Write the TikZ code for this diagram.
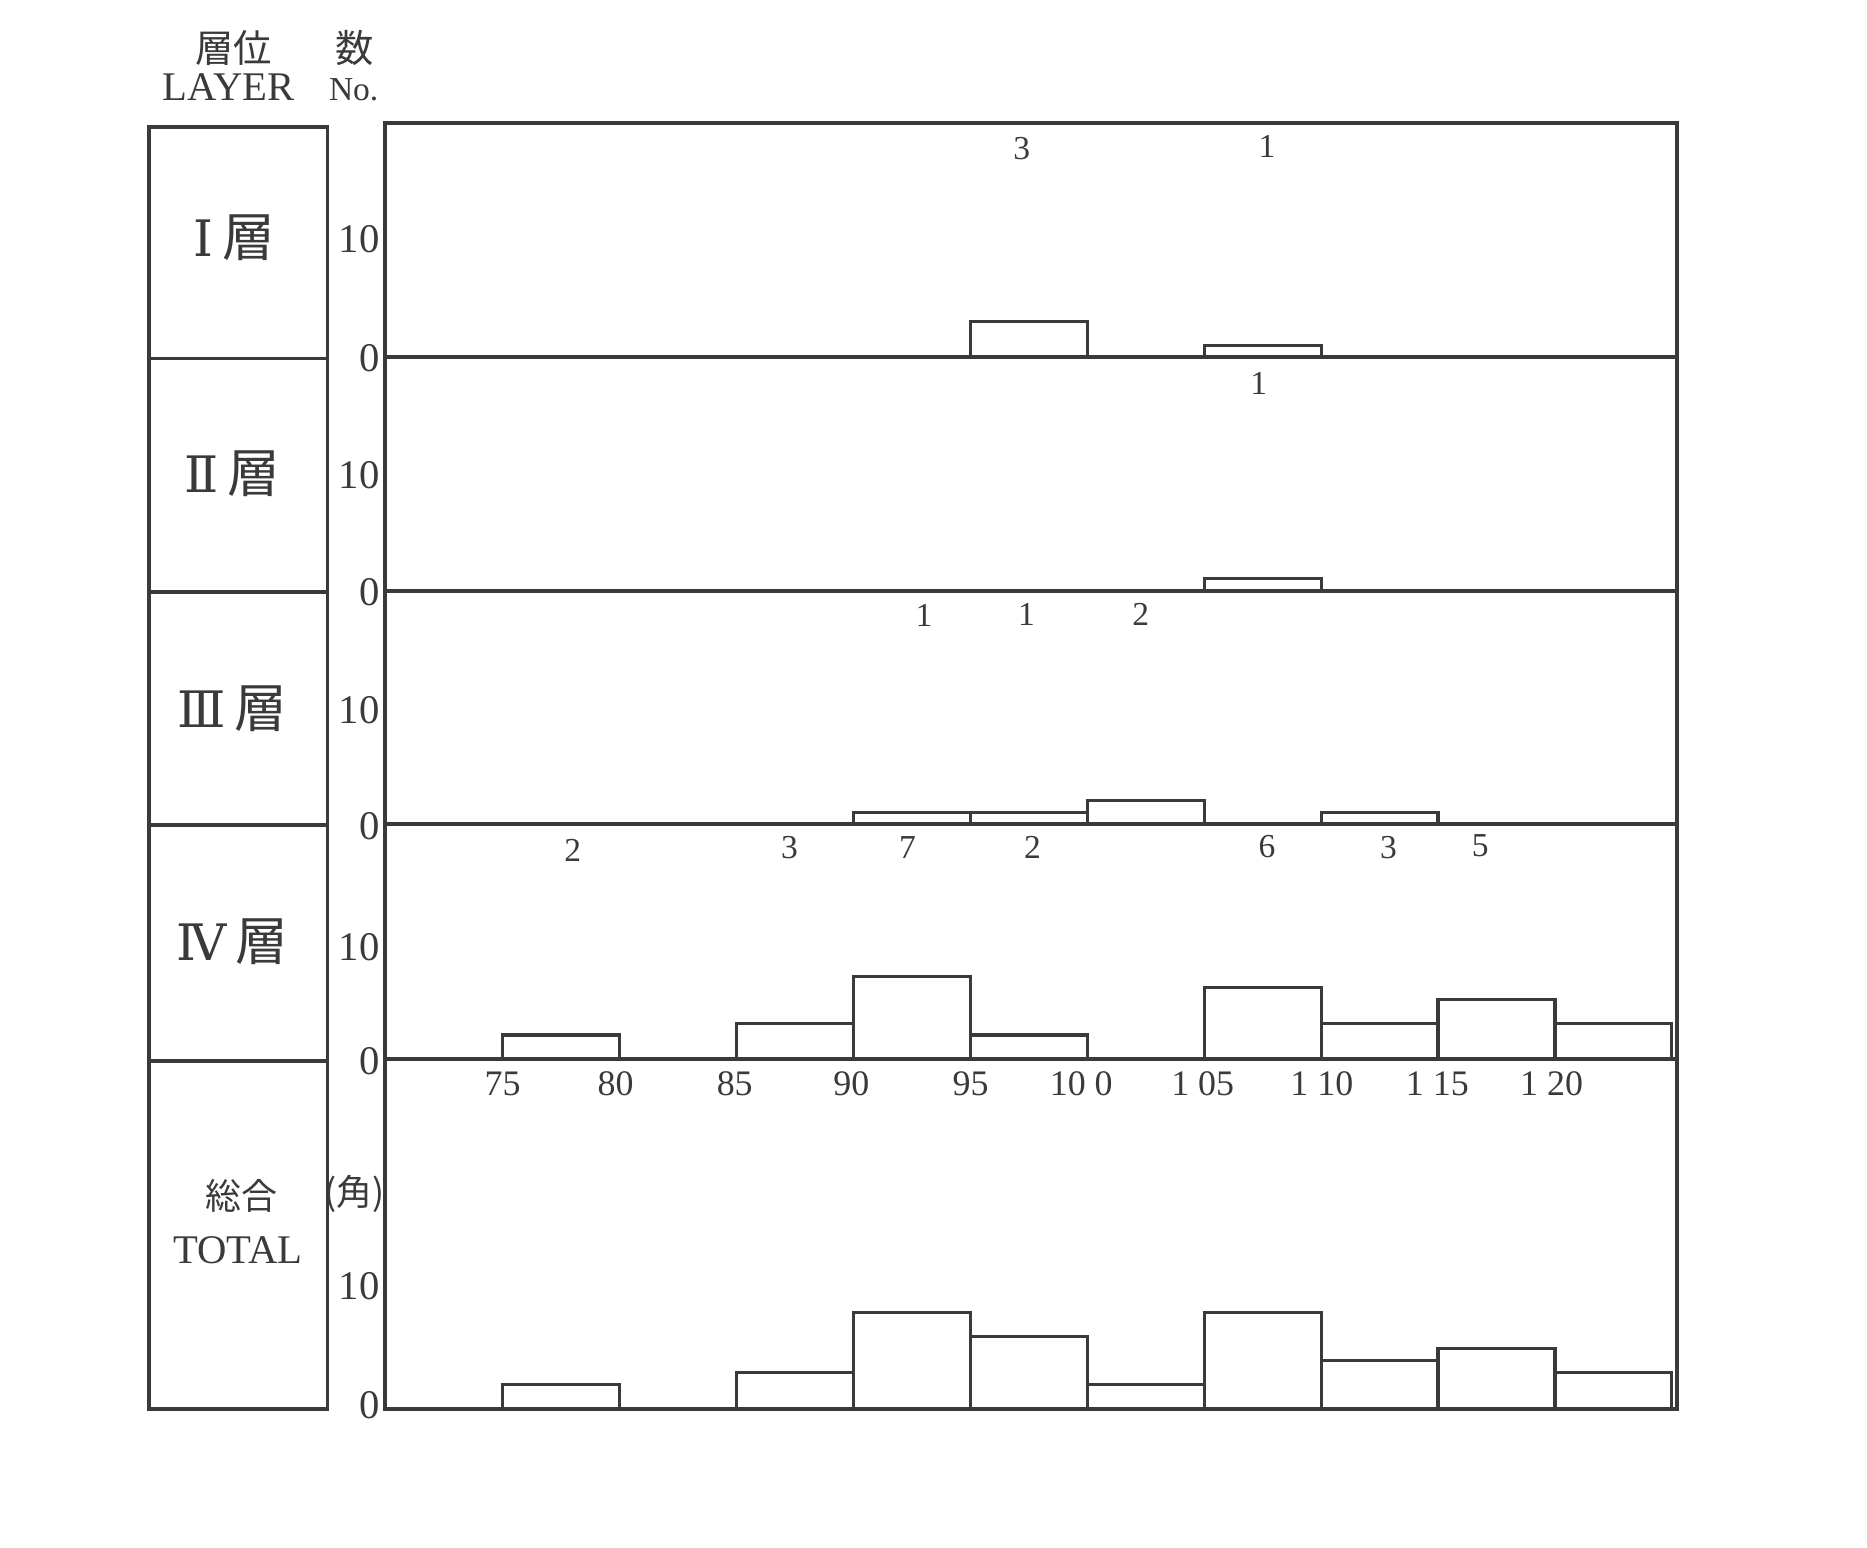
\documentclass[tikz,border=0pt]{standalone}
\usepackage{fontspec}
\setmainfont{Liberation Serif}
\newfontfamily\jp{Noto Sans CJK JP}
\newfontfamily\rn{DejaVu Serif}
\definecolor{ink}{HTML}{3A3A3A}
\begin{document}
\begin{tikzpicture}[x=0.5pt,y=-0.5pt,
  frame/.style={draw=ink,line width=1.6pt},
  bar/.style={draw=ink,line width=1.3pt},
  ytick/.style={text=ink,font=\fontsize{17}{17}\selectfont,anchor=east,inner sep=0pt},
  cnt/.style={text=ink,font=\fontsize{14}{14}\selectfont,inner sep=0pt},
  xlab/.style={text=ink,font=\fontsize{15}{15}\selectfont,inner sep=0pt},
  layer/.style={text=ink,font=\fontsize{22}{22}\selectfont,inner sep=0pt},
  head/.style={text=ink,inner sep=0pt}]
\useasboundingbox[fill=white] (0,0) rectangle (1560,1293);
\begin{scope}[scale=0.995]
% header
\node[head,font=\jp\fontsize{16}{16}\selectfont] (h1) at (196,40) {層位};
\node[head,font=\jp\fontsize{16}{16}\selectfont] (h2) at (298,40) {数};
\node[head,font=\fontsize{17}{17}\selectfont] (h3) at (192,73) {LAYER};
\node[head,font=\fontsize{14}{14}\selectfont] (h4) at (297,75) {No.};
% left column
\draw[frame] (125,107) rectangle (275,1183);
\foreach \y in {301,497,693,891} \draw[frame] (125,\y) -- (275,\y);
\node[layer] (L1) at (197,200) {{\rn\fontsize{21}{21}\selectfont Ⅰ}\,{\jp 層}};
\node[layer] (L2) at (195,398) {{\rn\fontsize{21}{21}\selectfont Ⅱ}\,{\jp 層}};
\node[layer] (L3) at (195,595) {{\rn\fontsize{21}{21}\selectfont Ⅲ}\,{\jp 層}};
\node[layer] (L4) at (195,791) {{\rn\fontsize{21}{21}\selectfont Ⅳ}\,{\jp 層}};
\node[head,font=\jp\fontsize{15}{15}\selectfont] (L5) at (203,1004) {総合};
\node[head,font=\fontsize{17}{17}\selectfont] (L6) at (200,1050) {TOTAL};
% plot frame
\draw[frame] (323,103) rectangle (1408,1183);
\foreach \y in {300,496,692,889} \draw[frame] (323,\y) -- (1408,\y);
% y ticks
\foreach \y [count=\i] in {201,399,596,795,1080} \node[ytick] (t10\i) at (319,\y) {10};
\foreach \y [count=\i] in {301,497,694,891,1180} \node[ytick] (t0\i) at (319,\y) {0};
\node[head,font=\jp\fontsize{15}{15}\selectfont] (unit) at (298,1003) {(角)};
% bars layer I
\foreach \a/\h in {95/3,105/1}
  \draw[bar] ({323.8+(\a-70)*19.64},300) rectangle ({323.8+(\a-65)*19.64},{300-\h*9.9});
% layer II
\foreach \a/\h in {105/1}
  \draw[bar] ({323.8+(\a-70)*19.64},496) rectangle ({323.8+(\a-65)*19.64},{496-\h*9.9});
% layer III
\foreach \a/\h in {90/1,95/1,100/2,110/1}
  \draw[bar] ({323.8+(\a-70)*19.64},692) rectangle ({323.8+(\a-65)*19.64},{692-\h*9.9});
% layer IV
\foreach \a/\h in {75/2,85/3,90/7,95/2,105/6,110/3,115/5,120/3}
  \draw[bar] ({323.8+(\a-70)*19.64},889) rectangle ({323.8+(\a-65)*19.64},{889-\h*9.9});
% total
\foreach \a/\h in {75/2,85/3,90/8,95/6,100/2,105/8,110/4,115/5,120/3}
  \draw[bar] ({323.8+(\a-70)*19.64},1183) rectangle ({323.8+(\a-65)*19.64},{1183-\h*10.1});
% count labels
\node[cnt] (c1) at (858,125) {3};
\node[cnt] (c2) at (1064,123) {1};
\node[cnt] (c3) at (1057,322) {1};
\node[cnt] (c4) at (776,517) {1};
\node[cnt] (c5) at (862,516) {1};
\node[cnt] (c6) at (958,516) {2};
\node[cnt] (c7) at (481,714) {2};
\node[cnt] (c8) at (663,712) {3};
\node[cnt] (c9) at (762,712) {7};
\node[cnt] (c10) at (867,712) {2};
\node[cnt] (c11) at (1064,711) {6};
\node[cnt] (c12) at (1166,712) {3};
\node[cnt] (c13) at (1243,710) {5};
% x axis labels
\foreach \x/\t [count=\i] in {422/75,517/80,617/85,715/90,815/95,908/10\ 0,1010/1\ 05,1110/1\ 10,1207/1\ 15,1303/1\ 20}
  \node[xlab] (x\i) at (\x,910) {\t};
\end{scope}
\end{tikzpicture}
\end{document}
